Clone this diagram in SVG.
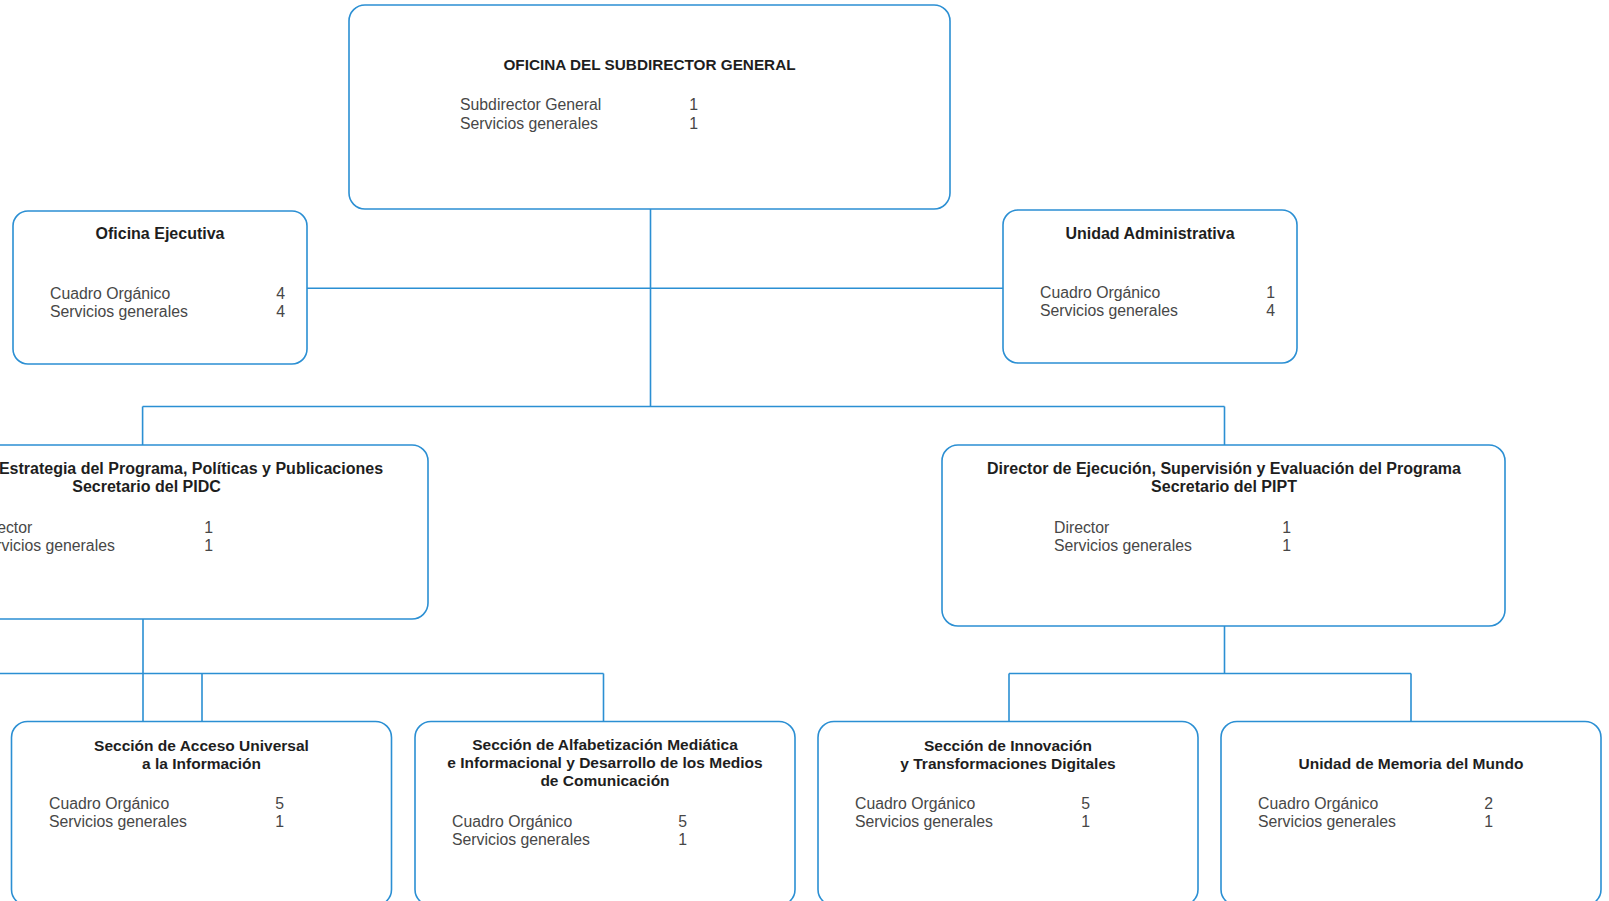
<svg xmlns="http://www.w3.org/2000/svg" width="1609" height="901" viewBox="0 0 1609 901">
<style>
.box{fill:#ffffff;stroke:#2b8fd3;stroke-width:1.6}
.con{fill:none;stroke:#2b8fd3;stroke-width:1.6}
.t{font-family:"Liberation Sans",Arial,sans-serif;font-weight:bold;font-size:16px;fill:#1e1e1e;text-anchor:middle}
.tu{font-size:15.3px}
.tb{font-size:15.5px}
.b{font-family:"Liberation Sans",Arial,sans-serif;font-size:15.8px;fill:#474747}
.n{font-family:"Liberation Sans",Arial,sans-serif;font-size:15.8px;fill:#474747;text-anchor:end}
</style>
<rect width="1609" height="901" fill="#ffffff"/>
<g id="connectors">
<path class="con" d="M650.5 209V406.5M307 288.3H1003M142.6 406.5H1224.5M142.6 406.5V445M1224.5 406.5V445"/>
<path class="con" d="M143 619V721.5M0 673.5H603.5M202 673.5V721.5M603.5 673.5V721.5"/>
<path class="con" d="M1224.5 626V673.5M1009 673.5H1411M1009 673.5V721.5M1411 673.5V721.5"/>
</g>
<g id="oficina-subdirector">
<rect class="box" x="349" y="5" width="601" height="204" rx="16"/>
<text class="t tu" x="649.5" y="70">OFICINA DEL SUBDIRECTOR GENERAL</text>
<text class="b" x="460" y="110">Subdirector General</text>
<text class="b" x="460" y="128.5">Servicios generales</text>
<text class="n" x="698" y="110">1</text>
<text class="n" x="698" y="128.5">1</text>
</g>
<g id="oficina-ejecutiva">
<rect class="box" x="13" y="211" width="294" height="153" rx="15"/>
<text class="t" x="160" y="239">Oficina Ejecutiva</text>
<text class="b" x="50" y="299">Cuadro Orgánico</text>
<text class="b" x="50" y="317">Servicios generales</text>
<text class="n" x="285" y="299">4</text>
<text class="n" x="285" y="317">4</text>
</g>
<g id="unidad-administrativa">
<rect class="box" x="1003" y="210" width="294" height="153" rx="15"/>
<text class="t" x="1150" y="238.5">Unidad Administrativa</text>
<text class="b" x="1040" y="298">Cuadro Orgánico</text>
<text class="b" x="1040" y="316">Servicios generales</text>
<text class="n" x="1275" y="298">1</text>
<text class="n" x="1275" y="316">4</text>
</g>
<g id="director-estrategia">
<rect class="box" x="-135" y="445" width="563" height="174" rx="16"/>
<text class="t" x="146.5" y="474">Director de Estrategia del Programa, Políticas y Publicaciones</text>
<text class="t" x="146.5" y="492">Secretario del PIDC</text>
<text class="b" x="-23" y="533">Director</text>
<text class="b" x="-23" y="551">Servicios generales</text>
<text class="n" x="213" y="533">1</text>
<text class="n" x="213" y="551">1</text>
</g>
<g id="director-ejecucion">
<rect class="box" x="942" y="445" width="563" height="181" rx="16"/>
<text class="t" x="1224" y="474">Director de Ejecución, Supervisión y Evaluación del Programa</text>
<text class="t" x="1224" y="492">Secretario del PIPT</text>
<text class="b" x="1054" y="533">Director</text>
<text class="b" x="1054" y="551">Servicios generales</text>
<text class="n" x="1291" y="533">1</text>
<text class="n" x="1291" y="551">1</text>
</g>
<g id="seccion-acceso">
<rect class="box" x="11.5" y="721.5" width="380" height="184" rx="16"/>
<text class="t tb" x="201.5" y="751">Sección de Acceso Universal</text>
<text class="t tb" x="201.5" y="769">a la Información</text>
<text class="b" x="49" y="809">Cuadro Orgánico</text>
<text class="b" x="49" y="827">Servicios generales</text>
<text class="n" x="284" y="809">5</text>
<text class="n" x="284" y="827">1</text>
</g>
<g id="seccion-alfabetizacion">
<rect class="box" x="415" y="721.5" width="380" height="184" rx="16"/>
<text class="t tb" x="605" y="750">Sección de Alfabetización Mediática</text>
<text class="t tb" x="605" y="768">e Informacional y Desarrollo de los Medios</text>
<text class="t tb" x="605" y="786">de Comunicación</text>
<text class="b" x="452" y="827">Cuadro Orgánico</text>
<text class="b" x="452" y="845">Servicios generales</text>
<text class="n" x="687" y="827">5</text>
<text class="n" x="687" y="845">1</text>
</g>
<g id="seccion-innovacion">
<rect class="box" x="818" y="721.5" width="380" height="184" rx="16"/>
<text class="t tb" x="1008" y="751">Sección de Innovación</text>
<text class="t tb" x="1008" y="769">y Transformaciones Digitales</text>
<text class="b" x="855" y="809">Cuadro Orgánico</text>
<text class="b" x="855" y="827">Servicios generales</text>
<text class="n" x="1090" y="809">5</text>
<text class="n" x="1090" y="827">1</text>
</g>
<g id="unidad-memoria">
<rect class="box" x="1221" y="721.5" width="380" height="184" rx="16"/>
<text class="t tb" x="1411" y="769">Unidad de Memoria del Mundo</text>
<text class="b" x="1258" y="809">Cuadro Orgánico</text>
<text class="b" x="1258" y="827">Servicios generales</text>
<text class="n" x="1493" y="809">2</text>
<text class="n" x="1493" y="827">1</text>
</g>
</svg>
